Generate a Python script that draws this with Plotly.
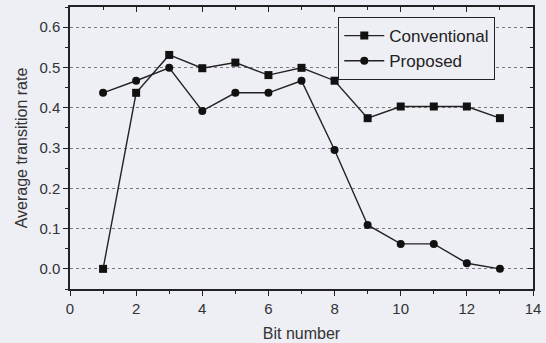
import plotly.graph_objects as go

bits = [1, 2, 3, 4, 5, 6, 7, 8, 9, 10, 11, 12, 13]
conventional = [0.0, 0.437, 0.531, 0.498, 0.512, 0.481, 0.499, 0.467, 0.374, 0.403, 0.403, 0.403, 0.374]
proposed = [0.437, 0.467, 0.499, 0.392, 0.437, 0.437, 0.467, 0.295, 0.109, 0.062, 0.062, 0.014, 0.0]

x_ticks = [0, 2, 4, 6, 8, 10, 12, 14]
y_ticks = [0.0, 0.1, 0.2, 0.3, 0.4, 0.5, 0.6]

bg = "#EEEEF5"
font = "Liberation Sans, Arial, sans-serif"

fig = go.Figure()
fig.add_trace(go.Scatter(x=bits, y=conventional, name="Conventional", mode="lines+markers",
                         line=dict(color="#222222", width=1.4),
                         marker=dict(symbol="square", size=8, color="#111111")))
fig.add_trace(go.Scatter(x=bits, y=proposed, name="Proposed", mode="lines+markers",
                         line=dict(color="#222222", width=1.4),
                         marker=dict(symbol="circle", size=8, color="#111111")))

axis_common = dict(showline=True, linecolor="#222222", linewidth=1.5, zeroline=False, automargin=False,
                   tickfont=dict(family=font, size=15, color="#333333"))

fig.update_layout(
    width=546, height=343,
    margin=dict(l=70, r=13, t=7, b=54),
    paper_bgcolor=bg, plot_bgcolor=bg,
    font=dict(family=font, color="#333333"),
    showlegend=True,
    legend=dict(x=0.579, y=0.965, xanchor="left", yanchor="top",
                bgcolor=bg, bordercolor="#222222", borderwidth=1.2,
                font=dict(family=font, size=17, color="#222222"),
                tracegroupgap=0, itemwidth=40, entrywidth=140, entrywidthmode="pixels"),
    xaxis=dict(range=[0, 14], tickvals=x_ticks, ticks="outside", ticklen=5, tickwidth=1.2,
               tickcolor="#222222", showgrid=False,
               minor=dict(dtick=1, ticks="outside", ticklen=3, tickcolor="#222222"),
               title=dict(text="Bit number", font=dict(family=font, size=16, color="#333333"), standoff=12),
               **axis_common),
    yaxis=dict(range=[-0.05, 0.65], tickvals=y_ticks, tickformat=".1f", ticks="outside", ticklen=5,
               tickwidth=1.2, tickcolor="#222222",
               showgrid=True, gridcolor="#7a7a7a", griddash="dot", gridwidth=1,
               minor=dict(dtick=0.05, tick0=0.05, ticks="outside", ticklen=3, tickcolor="#222222", showgrid=False),
               title=dict(text="Average transition rate", font=dict(family=font, size=16, color="#333333"), standoff=8),
               **axis_common),
    xaxis2=dict(overlaying="x", side="top", range=[0, 14], tickvals=x_ticks, ticks="inside",
                ticklen=5, tickwidth=1.2, tickcolor="#222222", showticklabels=False, automargin=False,
                showgrid=False, showline=True, linecolor="#222222", linewidth=1.5, zeroline=False,
                minor=dict(dtick=1, ticks="inside", ticklen=3, tickcolor="#222222")),
    yaxis2=dict(overlaying="y", side="right", range=[-0.05, 0.65], tickvals=y_ticks, ticks="inside",
                ticklen=5, tickwidth=1.2, tickcolor="#222222", showticklabels=False, automargin=False,
                showgrid=False, showline=True, linecolor="#222222", linewidth=1.5, zeroline=False,
                minor=dict(dtick=0.05, tick0=0.05, ticks="inside", ticklen=3, tickcolor="#222222")),
)

# invisible trace to activate secondary axes
fig.add_trace(go.Scatter(x=[bits[0]], y=[conventional[0]], xaxis="x2", yaxis="y2",
                         mode="markers", marker=dict(opacity=0), showlegend=False, hoverinfo="skip"))

fig.write_html("out.html", config={"displayModeBar": False},
               post_script="document.body.style.margin='0';document.body.style.background='%s';" % bg)
